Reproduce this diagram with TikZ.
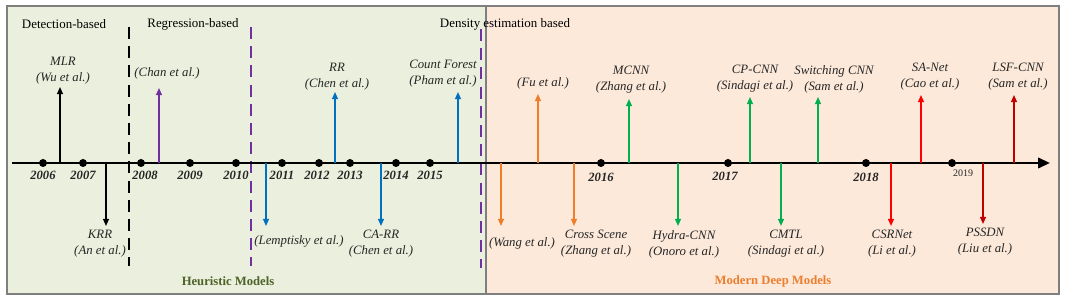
\documentclass[tikz,border=0pt]{standalone}
\usepackage{fontspec}
\setmainfont{Liberation Serif}
\usepackage{tikz}
\usetikzlibrary{arrows.meta,positioning,calc}
\definecolor{hgreen}{HTML}{EAF0DD}
\definecolor{morange}{HTML}{FCE9DA}
\definecolor{tlblue}{HTML}{0070C0}
\definecolor{tlorange}{HTML}{F07D2A}
\definecolor{tlgreen}{HTML}{00B050}
\definecolor{tlred}{HTML}{FF0000}
\definecolor{tldred}{HTML}{C00000}
\definecolor{tlpurple}{HTML}{7030A0}
\definecolor{tlolive}{HTML}{4F6228}
\definecolor{tlmod}{HTML}{EC7E2E}
\definecolor{tltext}{HTML}{262626}
\definecolor{tlframe}{HTML}{7F7F7F}
\tikzset{
  yr/.style={font=\fontsize{9}{10}\selectfont\bfseries\itshape,text=tltext,inner sep=0pt},
  dot/.style={circle,fill=black,inner sep=0pt,minimum size=2mm},
  ev/.style={align=center,font=\fontsize{9.1}{11.4}\selectfont\itshape,text=tltext,inner sep=0pt},
  hd/.style={font=\fontsize{9.2}{11}\selectfont,text=black,inner sep=0pt},
  grp/.style={font=\fontsize{9}{11}\selectfont\bfseries,inner sep=0pt},
  tk/.style={-{Triangle[length=1.8mm,width=1.5mm]},line width=1pt},
  sep/.style={line width=1.1pt,dash pattern=on 3mm off 1.8mm},
}

\begin{document}
\begin{tikzpicture}[x=0.025cm,y=-0.025cm]
    \useasboundingbox (0,0) rectangle (1080,306);
    % two eras
    \fill[hgreen] (7,6) rectangle (486,294);
    \fill[morange] (486,6) rectangle (1059,294);
    \draw[tlframe,line width=1pt] (7,6) rectangle (1059,294);
    \draw[tlframe,line width=0.8pt] (486,6) -- (486,294);
    \node[hd] (det) at (64,24) {Detection-based};
    \node[hd] (reg) at (193,24) {Regression-based};
    \node[hd] (dens) at (505,24) {Density estimation based};
    \node[grp,text=tlolive] (heur) at (228,281) {Heuristic Models};
    \node[grp,text=tlmod] (deep) at (773,281) {Modern Deep Models};
    % separators
    \coordinate (s1a) at (129,27); \coordinate (s1b) at (129,266);
    \coordinate (s2a) at (251,27); \coordinate (s2b) at (251,266);
    \coordinate (s3a) at (481,29); \coordinate (s3b) at (481,268);
    \draw[sep,black] (s1a) -- (s1b);
    \draw[sep,tlpurple] (s2a) -- (s2b);
    \draw[sep,tlpurple] (s3a) -- (s3b);
    % time axis
    \coordinate (axs) at (12,163);
    \coordinate (axe) at (1050,163);
    \draw[line width=1.8pt,-{Triangle[length=3mm,width=2.6mm]}] (axs) -- (axe);
    \node[dot] (y06) at (43,163) {};  \node[yr] (l06) at (43,175) {2006};
    \node[dot] (y07) at (83,163) {};  \node[yr] (l07) at (83,175) {2007};
    \node[dot] (y08) at (141,163) {}; \node[yr] (l08) at (145,175) {2008};
    \node[dot] (y09) at (190,163) {}; \node[yr] (l09) at (190,175) {2009};
    \node[dot] (y10) at (236,163) {}; \node[yr] (l10) at (236,175) {2010};
    \node[dot] (y11) at (282,163) {}; \node[yr] (l11) at (282,175) {2011};
    \node[dot] (y12) at (319,163) {}; \node[yr] (l12) at (317,175) {2012};
    \node[dot] (y13) at (350,163) {}; \node[yr] (l13) at (350,175) {2013};
    \node[dot] (y14) at (396,163) {}; \node[yr] (l14) at (396,175) {2014};
    \node[dot] (y15) at (430,163) {}; \node[yr] (l15) at (430,175) {2015};
    \node[dot] (y16) at (601,163) {}; \node[yr] (l16) at (601,177) {2016};
    \node[dot] (y17) at (728,163) {}; \node[yr] (l17) at (725,176) {2017};
    \node[dot] (y18) at (866,163) {}; \node[yr] (l18) at (866,177) {2018};
    \node[dot] (y19) at (952,163) {};
    \node[font=\fontsize{7.1}{8}\selectfont,text=tltext,inner sep=0pt] (l19) at (963,173) {2019};
    % methods above the axis
    \coordinate (mlr-t) at (60,87);    \node[ev] (mlr) at (63,71) {MLR\\(Wu et al.)};
    \coordinate (chan-t) at (159,88);  \node[ev] (chan) at (167,73) {(Chan et al.)};
    \coordinate (rr-t) at (335,92);    \node[ev] (rr) at (337,77) {RR\\(Chen et al.)};
    \coordinate (cf-t) at (458,92);    \node[ev] (cf) at (443,74) {Count Forest\\(Pham et al.)};
    \coordinate (fu-t) at (538,94);    \node[ev] (fu) at (543,83) {(Fu et al.)};
    \coordinate (mcnn-t) at (629,99);  \node[ev] (mcnn) at (631,80) {MCNN\\(Zhang et al.)};
    \coordinate (cp-t) at (750,97);    \node[ev] (cp) at (755,79) {CP-CNN\\(Sindagi et al.)};
    \coordinate (sw-t) at (818,97);    \node[ev] (sw) at (834,79) {Switching CNN\\(Sam et al.)};
    \coordinate (sa-t) at (921,95);    \node[ev] (sa) at (930,77) {SA-Net\\(Cao et al.)};
    \coordinate (lsf-t) at (1014,95);  \node[ev] (lsf) at (1018,77) {LSF-CNN\\(Sam et al.)};
    \draw[tk,black] (mlr-t |- axs) -- (mlr-t);
    \draw[tk,tlpurple] (chan-t |- axs) -- (chan-t);
    \draw[tk,tlblue] (rr-t |- axs) -- (rr-t);
    \draw[tk,tlblue] (cf-t |- axs) -- (cf-t);
    \draw[tk,tlorange] (fu-t |- axs) -- (fu-t);
    \draw[tk,tlgreen] (mcnn-t |- axs) -- (mcnn-t);
    \draw[tk,tlgreen] (cp-t |- axs) -- (cp-t);
    \draw[tk,tlgreen] (sw-t |- axs) -- (sw-t);
    \draw[tk,tlred] (sa-t |- axs) -- (sa-t);
    \draw[tk,tldred] (lsf-t |- axs) -- (lsf-t);
    % methods below the axis
    \coordinate (krr-t) at (106,226);  \node[ev] (krr) at (100,244) {KRR\\(An et al.)};
    \coordinate (lem-t) at (266,226);  \node[ev] (lem) at (299,241) {(Lemptisky et al.)};
    \coordinate (ca-t) at (381,226);   \node[ev] (ca) at (381,244) {CA-RR\\(Chen et al.)};
    \coordinate (wang-t) at (501,226); \node[ev] (wang) at (522,243) {(Wang et al.)};
    \coordinate (cs-t) at (574,226);   \node[ev] (cs) at (596,244) {Cross Scene\\(Zhang et al.)};
    \coordinate (hy-t) at (678,226);   \node[ev] (hy) at (684,244) {Hydra-CNN\\(Onoro et al.)};
    \coordinate (cmtl-t) at (781,226); \node[ev] (cmtl) at (786,244) {CMTL\\(Sindagi et al.)};
    \coordinate (csr-t) at (891,226);  \node[ev] (csr) at (892,244) {CSRNet\\(Li et al.)};
    \coordinate (pss-t) at (983,224);  \node[ev] (pss) at (985,242) {PSSDN\\(Liu et al.)};
    \draw[tk,black] (krr-t |- axs) -- (krr-t);
    \draw[tk,tlblue] (lem-t |- axs) -- (lem-t);
    \draw[tk,tlblue] (ca-t |- axs) -- (ca-t);
    \draw[tk,tlorange] (wang-t |- axs) -- (wang-t);
    \draw[tk,tlorange] (cs-t |- axs) -- (cs-t);
    \draw[tk,tlgreen] (hy-t |- axs) -- (hy-t);
    \draw[tk,tlgreen] (cmtl-t |- axs) -- (cmtl-t);
    \draw[tk,tlred] (csr-t |- axs) -- (csr-t);
    \draw[tk,tldred] (pss-t |- axs) -- (pss-t);
  \end{tikzpicture}
\end{document}
